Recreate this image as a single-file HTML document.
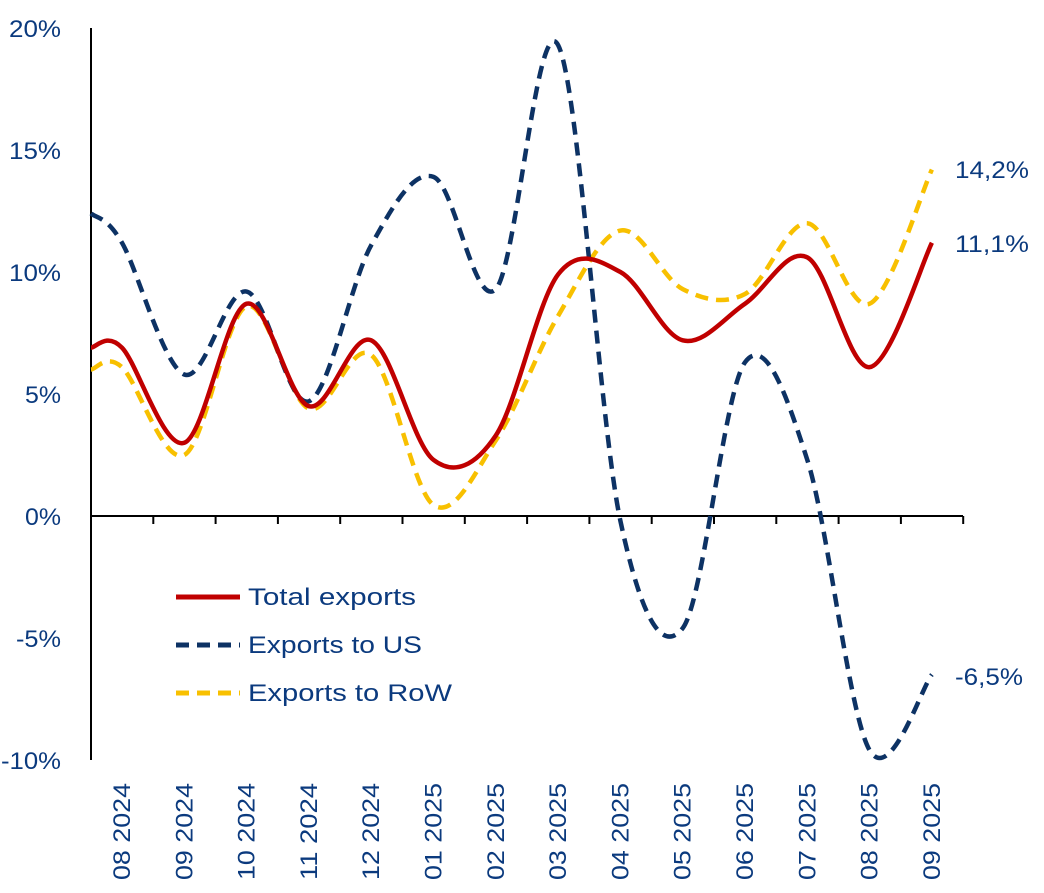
<!DOCTYPE html>
<html><head><meta charset="utf-8"><style>
body{margin:0;background:#fff}
svg text{font-family:"Liberation Sans",sans-serif;fill:#0b3a7e}
</style></head><body>
<svg id="s" width="1044" height="888" xmlns="http://www.w3.org/2000/svg">
<g font-size="24" text-anchor="end">
<text x="61" y="37" textLength="52" lengthAdjust="spacingAndGlyphs">20%</text><text x="61" y="159" textLength="52" lengthAdjust="spacingAndGlyphs">15%</text><text x="61" y="281" textLength="52" lengthAdjust="spacingAndGlyphs">10%</text>
<text x="61" y="403" textLength="36" lengthAdjust="spacingAndGlyphs">5%</text><text x="61" y="525" textLength="36" lengthAdjust="spacingAndGlyphs">0%</text><text x="61" y="647" textLength="45" lengthAdjust="spacingAndGlyphs">-5%</text><text x="61" y="769" textLength="60" lengthAdjust="spacingAndGlyphs">-10%</text>
</g>
<line x1="91" y1="28" x2="91" y2="760" stroke="#000" stroke-width="2"/>
<line x1="91" y1="516" x2="963" y2="516" stroke="#000" stroke-width="2"/>
<g id="ticks" stroke="#000" stroke-width="2"></g>
<g id="xl" font-size="24"></g>
<g id="lines" fill="none" stroke-width="4.5"></g>
<g font-size="24">
<line x1="176" y1="597" x2="240" y2="597" stroke="#c00000" stroke-width="5"/>
<text x="248" y="605" textLength="168" lengthAdjust="spacingAndGlyphs">Total exports</text>
<line x1="176" y1="645" x2="240" y2="645" stroke="#0d3264" stroke-width="5" stroke-dasharray="13,8"/>
<text x="248" y="653" textLength="174" lengthAdjust="spacingAndGlyphs">Exports to US</text>
<line x1="176" y1="693" x2="240" y2="693" stroke="#f8c000" stroke-width="5" stroke-dasharray="13,8"/>
<text x="248" y="701" textLength="204" lengthAdjust="spacingAndGlyphs">Exports to RoW</text>
<text x="955" y="178" textLength="74" lengthAdjust="spacingAndGlyphs">14,2%</text>
<text x="955" y="252" textLength="74" lengthAdjust="spacingAndGlyphs">11,1%</text>
<text x="955" y="685" textLength="68" lengthAdjust="spacingAndGlyphs">-6,5%</text>
</g>
</svg>
<script>
var ns="http://www.w3.org/2000/svg";
var labels=["08 2024","09 2024","10 2024","11 2024","12 2024","01 2025","02 2025","03 2025","04 2025","05 2025","06 2025","07 2025","08 2025","09 2025"];
var sx=62.3,x0=122;
function X(i){return x0+sx*i}
function Y(v){return 516-24.4*v}
var t=document.getElementById("ticks"),xl=document.getElementById("xl");
for(var i=1;i<=14;i++){var x=91+sx*i;var l=document.createElementNS(ns,"line");l.setAttribute("x1",x);l.setAttribute("x2",x);l.setAttribute("y1",516);l.setAttribute("y2",524);t.appendChild(l);}
labels.forEach(function(s,i){var e=document.createElementNS(ns,"text");e.setAttribute("transform","translate("+(X(i)+8)+",880) rotate(-90)");e.setAttribute("textLength","97");e.setAttribute("lengthAdjust","spacingAndGlyphs");e.textContent=s;xl.appendChild(e);});
var series=[
{c:"#f8c000",d:"13,8",v:[6.1,2.5,8.6,4.4,6.6,0.45,3.1,8.2,11.7,9.3,9.1,12.0,8.7,14.2],s:6.0},
{c:"#0d3264",d:"13,8",v:[11.2,5.8,9.2,4.7,11.1,13.9,9.3,19.3,-0.2,-4.6,6.3,2.3,-9.6,-6.5],s:12.4},
{c:"#c00000",d:"",v:[6.9,3.0,8.7,4.5,7.2,2.3,3.3,9.9,10.0,7.2,8.7,10.6,6.1,11.2],s:6.9}
];
var g=document.getElementById("lines");
series.forEach(function(se){
 var p=[[91,Y(se.s)]];se.v.forEach(function(v,i){p.push([X(i),Y(v)])});
 var d="M"+p[0][0]+","+p[0][1];
 for(var i=0;i<p.length-1;i++){var a=p[Math.max(0,i-1)],b=p[i],c=p[i+1],e=p[Math.min(p.length-1,i+2)];
  var c1=[b[0]+(c[0]-a[0])/6,b[1]+(c[1]-a[1])/6],c2=[c[0]-(e[0]-b[0])/6,c[1]-(e[1]-b[1])/6];
  d+=" C"+c1+" "+c2+" "+c;}
 var pa=document.createElementNS(ns,"path");pa.setAttribute("d",d);pa.setAttribute("stroke",se.c);
 if(se.d)pa.setAttribute("stroke-dasharray",se.d);g.appendChild(pa);
});
</script>
</body></html>
